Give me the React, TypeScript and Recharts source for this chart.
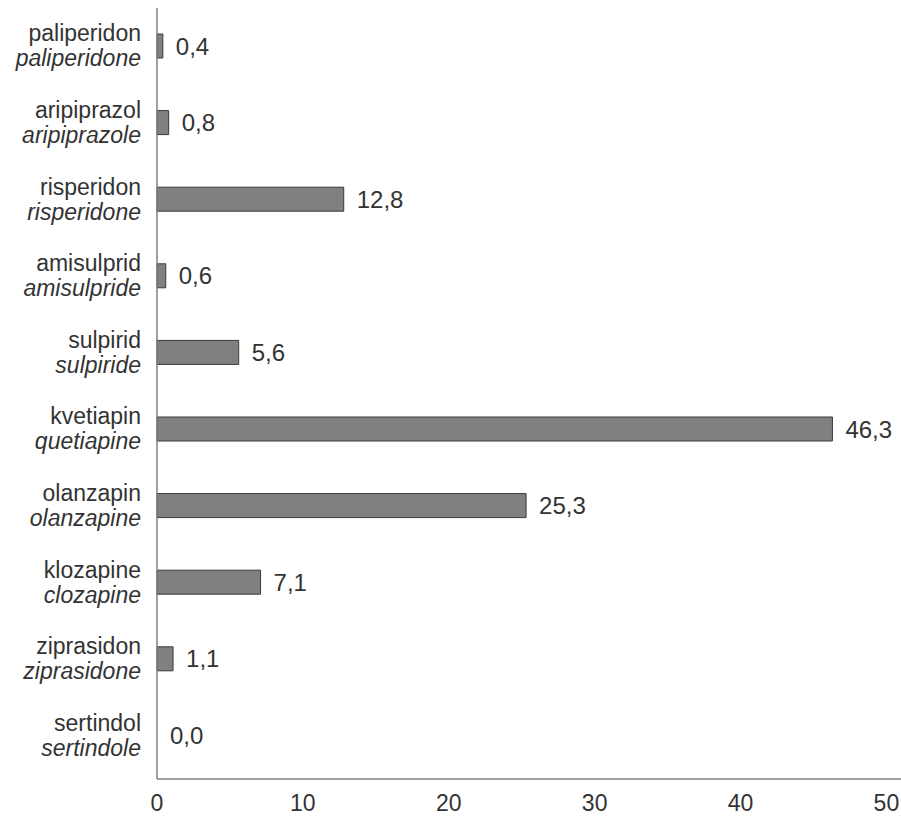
import { BarChart, Bar, XAxis, YAxis, LabelList, Rectangle } from "recharts";

const localNames = [
  "paliperidon",
  "aripiprazol",
  "risperidon",
  "amisulprid",
  "sulpirid",
  "kvetiapin",
  "olanzapin",
  "klozapine",
  "ziprasidon",
  "sertindol",
];

const englishNames = [
  "paliperidone",
  "aripiprazole",
  "risperidone",
  "amisulpride",
  "sulpiride",
  "quetiapine",
  "olanzapine",
  "clozapine",
  "ziprasidone",
  "sertindole",
];

const shares = [0.4, 0.8, 12.8, 0.6, 5.6, 46.3, 25.3, 7.1, 1.1, 0.0];

const xTicks = [0, 10, 20, 30, 40, 50];

const data = localNames.map((name, i) => ({
  name,
  english: englishNames[i],
  value: shares[i],
}));

const FONT = "'Liberation Sans', Arial, sans-serif";
const TEXT = "#333333";

const fmt = (v: number) => v.toFixed(1).replace(".", ",");

function DrugTick(props: any) {
  const { x, y, index } = props;
  return (
    <g>
      <text x={x - 8} y={y - 13} textAnchor="end" dominantBaseline="central"
        fontFamily={FONT} fontSize={23} fill={TEXT}>
        {localNames[index]}
      </text>
      <text x={x - 8} y={y + 12} textAnchor="end" dominantBaseline="central"
        fontFamily={FONT} fontSize={23} fontStyle="italic" fill={TEXT}>
        {englishNames[index]}
      </text>
    </g>
  );
}

function ValueLabel(props: any) {
  const { x, y, width, height, value } = props;
  const w = Number(value) === 0 ? 0 : Number(width || 0);
  return (
    <text x={Number(x) + w + 13} y={Number(y) + Number(height) / 2}
      dominantBaseline="central" fontFamily={FONT} fontSize={24} fill={TEXT}>
      {fmt(Number(value ?? 0))}
    </text>
  );
}

// zero-value bars get a tiny min size so their label still renders, but draw nothing
function BarShape(props: any) {
  if (Number(props.value) === 0) return <g />;
  return <Rectangle {...props} />;
}

export default function App() {
  return (
    <div style={{ position: "absolute", left: 0, top: 0, background: "#fff" }}>
      <BarChart
        width={901}
        height={816}
        data={data}
        layout="vertical"
        margin={{ top: 8, right: 0, left: 0, bottom: 0 }}
        barCategoryGap={0}
      >
        <XAxis
          type="number"
          domain={[0, 51]}
          ticks={xTicks}
          height={37}
          axisLine={{ stroke: "#808080", strokeWidth: 1.5 }}
          tickLine={false}
          tick={{ fill: TEXT, fontSize: 23, fontFamily: FONT, dy: 8 }}
        />
        <YAxis
          type="category"
          dataKey="name"
          width={157}
          padding={{ top: 0, bottom: 5 }}
          axisLine={{ stroke: "#808080", strokeWidth: 1.5 }}
          tickLine={false}
          tick={<DrugTick />}
          interval={0}
        />
        <Bar
          dataKey="value"
          barSize={24}
          minPointSize={0.01}
          fill="#808080"
          stroke="#3a3a3a"
          strokeWidth={1}
          shape={<BarShape />}
          isAnimationActive={false}
        >
          <LabelList dataKey="value" content={<ValueLabel />} />
        </Bar>
      </BarChart>
    </div>
  );
}
